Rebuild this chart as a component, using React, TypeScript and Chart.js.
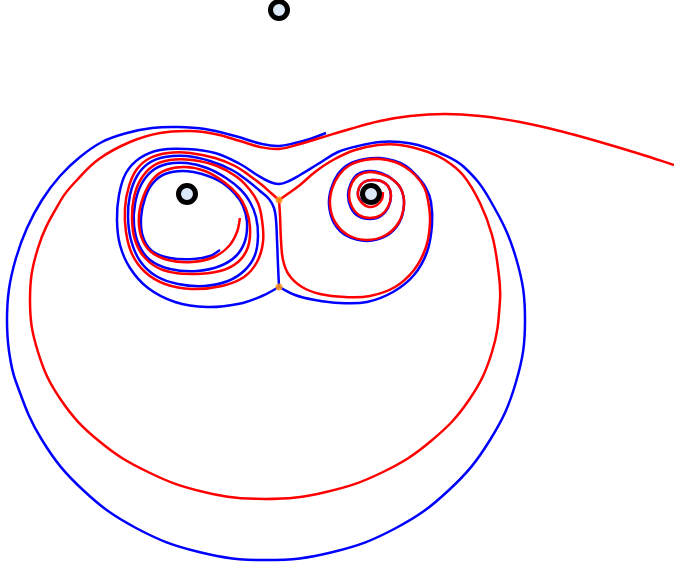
import React, { useEffect, useRef } from "react";
import { Chart, registerables } from "chart.js";

Chart.register(...registerables);

// Coordinates: x to the right, y upward, origin midway between the two lower bodies.
const bodies: [number, number][] = [
  [0, 184],
  [-92, 0],
  [92, 0],
];

const junctions: [number, number][] = [
  [0, -6],
  [0, -93],
];

// Blue trajectory: top arc, big outer loop, neck, outer left-lobe loop
const blueOuter: [number, number][] = [
  [47, 61], [31, 55], [16, 51], [0, 48], [-17, 50], [-44, 58], [-74, 65], [-102, 67],
  [-127, 66], [-152, 61], [-177, 52], [-199, 37], [-219, 18], [-237, -6], [-252, -34],
  [-263, -64], [-270, -95], [-272, -126], [-270, -157], [-263, -188], [-237, -246],
  [-196, -296], [-143, -334], [-80, -358], [-13, -366], [54, -358], [117, -334], [170, -296],
  [211, -246], [237, -188], [246, -126], [237, -64], [211, -6], [185, 27], [161, 41],
  [139, 49], [121, 52], [101, 52], [79, 48], [59, 42], [39, 30], [21, 19], [10, 13], [0, 10],
  [-9, 12], [-22, 19], [-39, 30], [-64, 41], [-92, 45], [-119, 44], [-139, 36], [-153, 21],
  [-160, -1], [-162, -26], [-159, -51], [-149, -74], [-131, -94], [-104, -108], [-72, -113],
  [-41, -110], [-17, -102], [0, -93],
];

// Blue: right lobe boundary winding into the loops around the right body
const blueLobe: [number, number][] = [
  [0, -93], [16, -101], [36, -106], [61, -109], [88, -108], [114, -98], [135, -81],
  [148, -58], [153, -31], [152, -8], [147, 6], [137, 19], [127, 28], [116, 33], [101, 36],
  [86, 35], [70, 30], [59, 20], [52, 5], [50, -11], [55, -29], [68, -42], [88, -47],
  [107, -42], [120, -29], [125, -11], [122, 5], [113, 15], [102, 21], [91, 23], [79, 20],
  [72, 11], [69, -1], [72, -14], [79, -22], [91, -25], [102, -22], [109, -14], [112, -2],
  [109, 8], [102, 13], [93, 14], [85, 12], [80, 6], [79, -2], [84, -9],
];

// Blue: spiral around the left body
const blueSpiral: [number, number][] = [
  [0, -93], [-1, -71], [-2, -46], [-3, -26], [-5, -14], [-10, -5], [-19, 3], [-31, 13],
  [-47, 24], [-69, 33], [-92, 38], [-114, 37], [-130, 31], [-142, 18], [-149, -1],
  [-151, -23], [-148, -46], [-139, -67], [-123, -82], [-101, -90], [-75, -92], [-51, -87],
  [-34, -76], [-24, -61], [-21, -42], [-23, -23], [-29, -8], [-38, 4], [-53, 16], [-72, 26],
  [-92, 31], [-112, 30], [-127, 23], [-138, 9], [-144, -10], [-145, -31], [-140, -51],
  [-129, -66], [-109, -75], [-82, -77], [-59, -72], [-43, -62], [-34, -47], [-32, -28],
  [-36, -12], [-44, 0], [-58, 12], [-77, 20], [-96, 23], [-114, 20], [-126, 11], [-134, -4],
  [-138, -24], [-136, -43], [-127, -57], [-109, -64], [-85, -65], [-69, -62], [-59, -56],
];

// Red trajectory: enters from the right, big loop, ends at upper junction
const redOuter: [number, number][] = [
  [395, 29], [361, 40], [321, 52], [281, 63], [241, 72], [201, 78], [166, 80], [131, 78],
  [101, 73], [71, 65], [41, 56], [21, 50], [0, 45], [-19, 47], [-39, 53], [-64, 60],
  [-89, 63], [-119, 61], [-149, 52], [-180, 35], [-202, 14], [-218, -6], [-241, -54],
  [-249, -106], [-241, -158], [-218, -206], [-180, -247], [-131, -278], [-75, -298],
  [-14, -305], [47, -298], [104, -278], [152, -247], [190, -206], [213, -158], [221, -106],
  [219, -74], [213, -41], [201, -9], [184, 19], [166, 34], [149, 42], [121, 49], [99, 49],
  [76, 44], [54, 34], [36, 22], [21, 9], [10, 1], [0, -6],
];

// Red: right lobe boundary winding into the loops around the right body
const redLobe: [number, number][] = [
  [0, -6], [1, -21], [2, -46], [4, -66], [10, -81], [23, -93], [41, -100], [66, -103],
  [91, -102], [116, -93], [135, -76], [147, -53], [151, -28], [149, -6], [145, 7], [136, 19],
  [126, 27], [116, 32], [101, 35], [86, 34], [71, 29], [60, 19], [53, 5], [51, -11],
  [56, -28], [69, -41], [88, -46], [107, -41], [120, -28], [125, -10], [122, 5], [113, 15],
  [102, 20], [91, 22], [80, 19], [73, 11], [70, -1], [73, -13], [80, -21], [91, -24],
  [102, -21], [109, -13], [112, -1], [109, 8], [102, 13], [93, 14], [85, 12], [80, 6],
  [79, -2], [83, -9], [90, -13], [98, -11], [103, -5], [104, 2],
];

// Red: spiral around the left body
const redSpiral: [number, number][] = [
  [0, -6], [-8, 1], [-17, 9], [-29, 18], [-44, 28], [-64, 36], [-89, 41], [-111, 41],
  [-129, 36], [-142, 25], [-150, 8], [-154, -14], [-153, -38], [-147, -60], [-134, -78],
  [-114, -90], [-87, -95], [-57, -92], [-35, -83], [-22, -68], [-16, -48], [-17, -26],
  [-21, -9], [-29, 4], [-42, 17], [-62, 28], [-87, 34], [-109, 34], [-126, 28], [-138, 15],
  [-145, -3], [-147, -24], [-144, -46], [-134, -64], [-116, -76], [-87, -80], [-59, -77],
  [-41, -68], [-31, -53], [-29, -33], [-33, -15], [-41, -1], [-55, 12], [-74, 23],
  [-94, 27], [-113, 24], [-126, 15], [-135, -1], [-140, -21], [-138, -42], [-129, -57],
  [-111, -66], [-87, -68], [-65, -63], [-50, -52], [-42, -38], [-39, -24],
];

const BLUE = "#0000ff";
const RED = "#ff0000";

const toPts = (arr: [number, number][]) => arr.map(([x, y]) => ({ x, y }));

function lineSet(data: [number, number][], color: string, order: number) {
  return {
    data: toPts(data),
    showLine: true,
    borderColor: color,
    backgroundColor: color,
    borderWidth: 2.5,
    pointRadius: 0,
    pointHoverRadius: 0,
    tension: 0.4,
    fill: false,
    clip: false,
    order,
  };
}

export default function App() {
  const ref = useRef<HTMLCanvasElement | null>(null);

  useEffect(() => {
    if (!ref.current) return;
    const chart = new Chart(ref.current, {
      type: "scatter",
      data: {
        datasets: [
          {
            data: toPts(bodies),
            showLine: false,
            pointRadius: 8.5,
            pointBorderWidth: 5,
            borderWidth: 5,
            pointBorderColor: "#000000",
            borderColor: "#000000",
            pointBackgroundColor: "#dce9f8",
            backgroundColor: "#dce9f8",
            clip: false,
            order: 0,
          },
          {
            data: toPts(junctions),
            showLine: false,
            pointRadius: 3.5,
            borderWidth: 0,
            pointBackgroundColor: "rgba(255,150,20,0.85)",
            backgroundColor: "rgba(255,150,20,0.85)",
            order: 1,
          },
          lineSet(redOuter, RED, 2),
          lineSet(redLobe, RED, 2),
          lineSet(redSpiral, RED, 2),
          lineSet(blueOuter, BLUE, 3),
          lineSet(blueLobe, BLUE, 3),
          lineSet(blueSpiral, BLUE, 3),
        ] as any,
      },
      options: {
        animation: false,
        responsive: false,
        maintainAspectRatio: false,
        layout: { padding: 0, autoPadding: false },
        plugins: {
          legend: { display: false },
          tooltip: { enabled: false },
          title: { display: false },
        },
        events: [],
        scales: {
          x: { type: "linear", min: -279, max: 395, display: false },
          y: { type: "linear", min: -375, max: 194, display: false },
        },
      } as any,
    });
    return () => chart.destroy();
  }, []);

  return (
    <div style={{ position: "fixed", left: 0, top: 0, width: 674, height: 569, background: "#ffffff" }}>
      <canvas ref={ref} width={674} height={569} style={{ width: 674, height: 569, display: "block" }} />
    </div>
  );
}
